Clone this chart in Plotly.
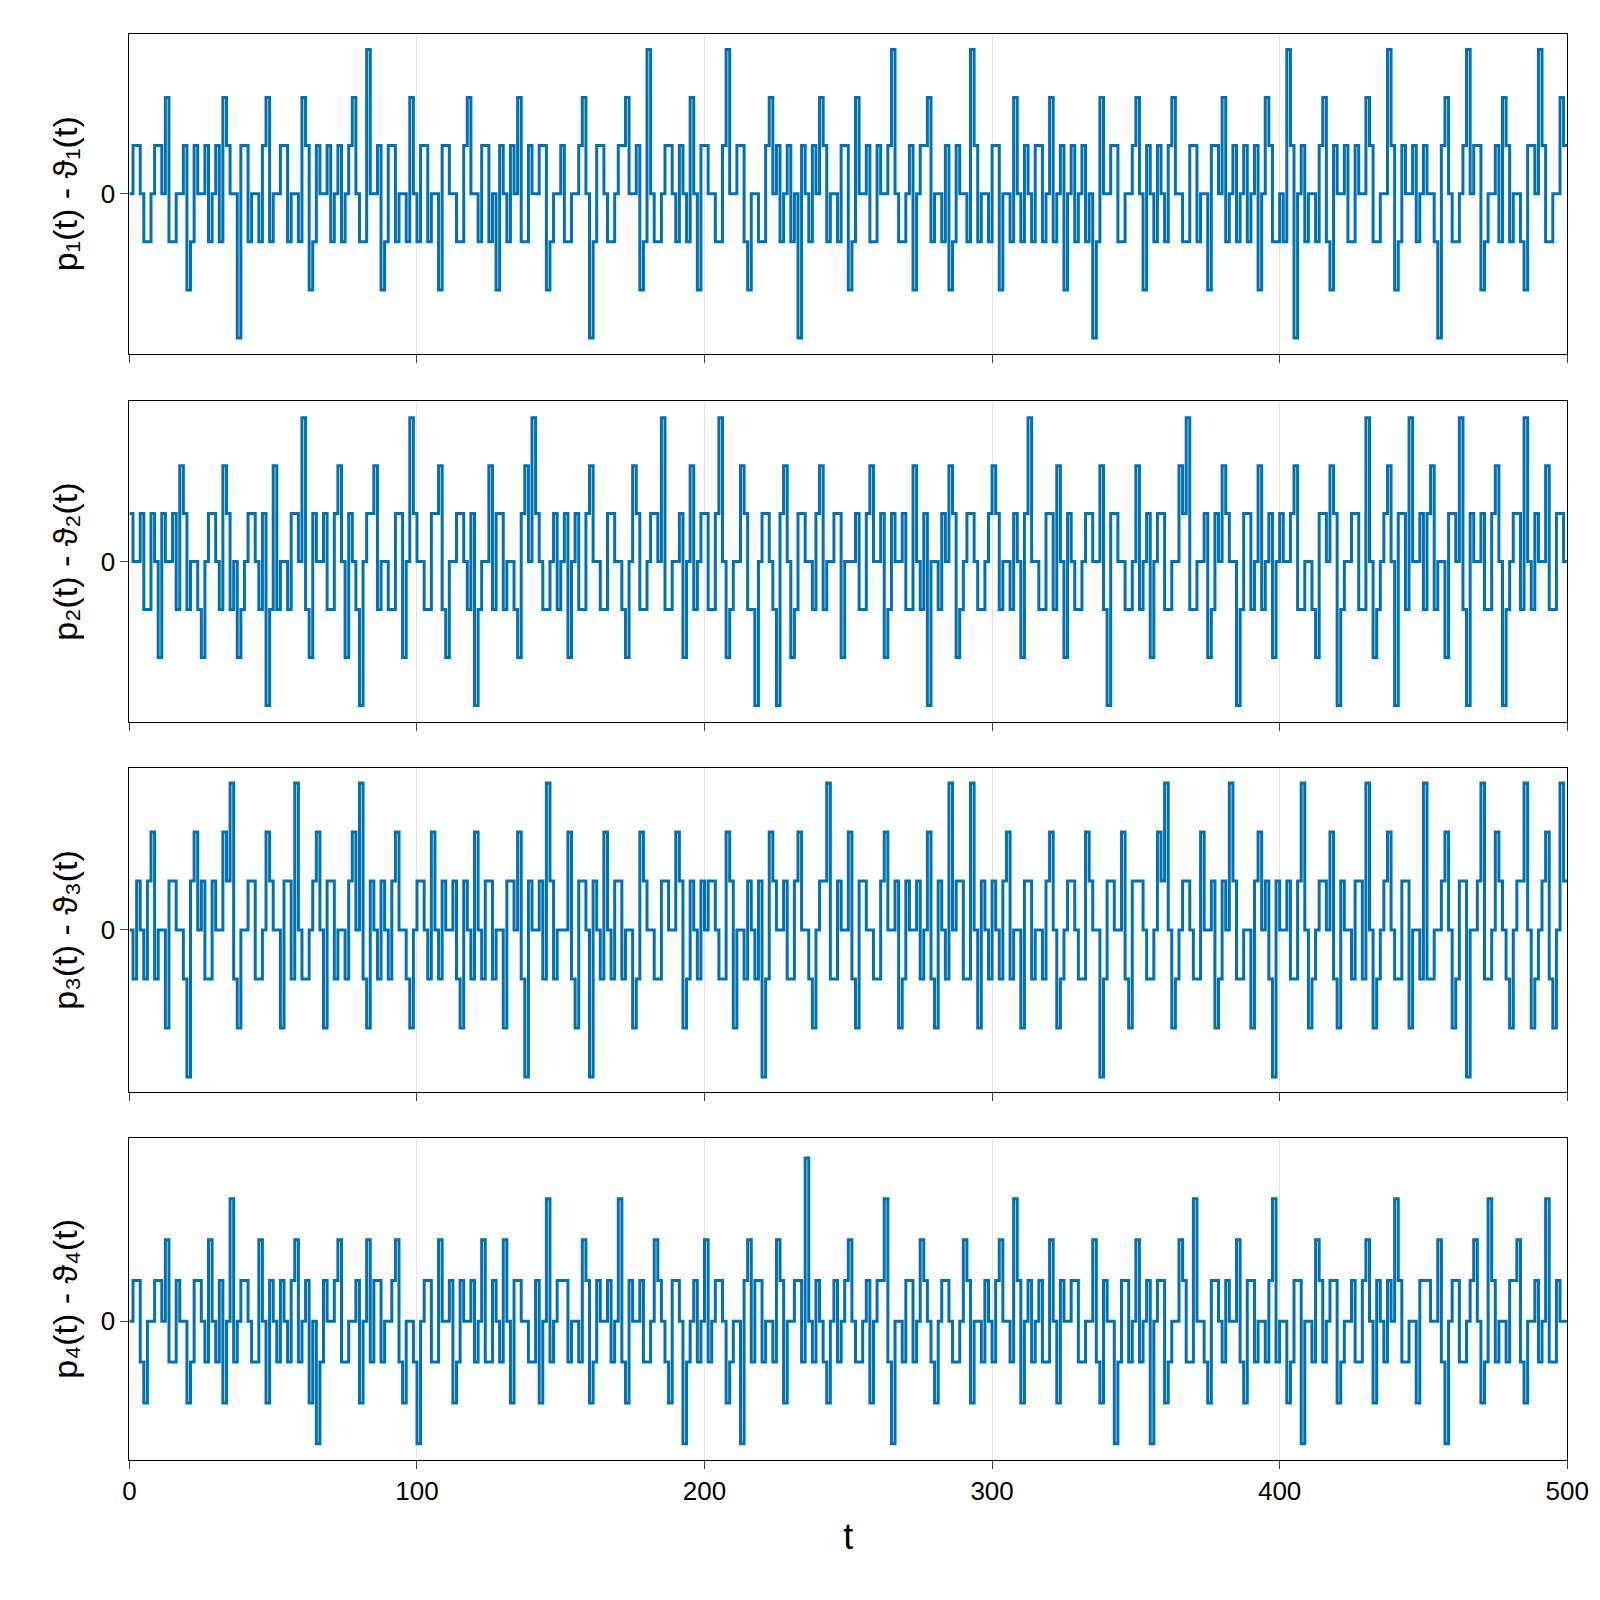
import numpy as np
import plotly.graph_objects as go

p1 = [0,1,-1,0,1,2,-1,0,-2,1,0,-1,1,2,0,-3,1,0,-1,2,
      0,1,-1,0,2,-2,1,0,-1,1,0,2,-1,3,0,-2,1,-1,0,2,
      -1,1,0,-2,1,0,-1,2,0,1,-1,-2,0,1,2,-1,0,1,-2,0,
      1,-1,0,2,-3,1,0,-1,1,2,0,-2,3,-1,0,1,-1,0,2,-2,
      1,0,-1,3,0,1,-2,0,-1,2,1,0,-1,-3,0,1,2,-1,0,1,
      -2,2,0,-1,1,0,3,-1,0,-2,1,2,0,-1,-2,1,0,3,-1,0,
      1,-2,0,2,-1,0,1,-1,2,0,-2,1,0,-1,-3,2,0,1,-1,0,
      2,-2,0,1,-1,2,0,-1,1,0,-2,1,2,0,-1,1,0,-2,2,-1,
      0,3,-3,1,0,-1,2,-2,0,1,-1,0,2,-1,0,3,-2,1,0,-1,
      1,0,-3,2,-1,0,3,1,-2,0,1,2,-1,0,-2,1,3,-1,0,2]
p1b = [1,0,-1,1,0,-1,0,1,-1,0,1,0,-1,1,0,1,-1,0,1,-1,
       0,1,0,-1,1,-1,0,1,0,-1,1,0,-1,0,1,-1,1,0,-1,0,
       1,-1,0,1,0,-1,1,0,-1,1,0,1,-1,0,-1,1,0,1,-1,0,
       -1,0,1,0,-1,1,-1,0,1,0,1,-1,0,-1,1,0,1,-1,0,1,
       0,-1,1,0,1,-1,0,-1,1,0,-1,1,0,1,-1,0,1,0,-1,1,
       -1,0,1,-1,0,1,0,-1,1,0,1,-1,0,1,-1,0,-1,1,0,-1,
       1,0,-1,0,1,-1,1,0,-1,1,0,-1,1,0,-1,0,1,-1,0,1,
       0,1,-1,0,1,0,-1,1,-1,0,1,0,-1,1,0,-1,1,0,1,-1,
       -1,1,0,-1,0,1,-1,1,0,-1,1,0,1,-1,0,1,-1,0,1,0,
       0,-1,1,0,-1,1,0,1,-1,0,-1,1,0,-1,1,0,1,-1,0,1]
p2 = [1,0,-1,1,-2,0,1,2,-1,0,-2,1,0,2,-1,-2,0,1,-1,-3,
      2,0,-1,1,3,-2,0,1,-1,2,-2,0,-3,1,2,0,-1,1,-2,3,
      0,-1,1,2,-2,0,1,-1,-3,0,2,1,-1,0,-2,2,3,0,-1,1,
      0,-2,1,-1,2,0,-1,1,0,-2,2,-1,0,1,3,-1,0,-2,2,0,
      1,-1,3,-2,0,2,-1,-3,1,0,-3,2,-2,1,0,-1,2,0,1,-2,
      0,1,-1,2,0,-2,1,0,-1,2,-1,-3,0,1,2,-2,0,1,-1,0,
      2,-1,0,1,-2,3,0,-1,1,2,-2,0,-1,1,0,2,-3,1,0,-1,
      2,0,-2,1,-1,0,2,3,-1,0,-2,1,2,0,-3,1,-1,2,0,-2,
      1,0,2,-1,0,-2,1,2,-3,0,1,-1,3,-2,0,2,-3,1,3,0,
      -1,2,0,-2,1,3,-3,0,1,-1,2,-3,0,1,3,-1,0,2,-1,1]
p2b = [0,1,-1,0,1,0,-1,1,0,-1,0,1,-1,1,0,-1,1,0,1,-1,
       -1,0,1,0,-1,1,0,-1,1,0,1,-1,0,1,-1,0,-1,1,0,1,
       0,-1,1,-1,0,1,0,1,-1,0,-1,1,0,-1,1,0,1,-1,0,-1,
       1,0,-1,1,0,-1,1,0,-1,0,1,-1,1,0,-1,0,1,0,-1,1,
       -1,1,0,-1,0,1,-1,0,1,-1,1,0,-1,1,0,1,-1,0,1,0,
       0,-1,1,0,1,-1,0,1,-1,0,1,0,-1,0,1,-1,1,0,-1,1,
       1,0,-1,0,1,0,-1,1,-1,0,1,-1,0,1,0,-1,1,0,-1,0,
       -1,1,0,1,-1,0,1,-1,0,1,-1,0,1,0,-1,1,0,-1,1,0,
       0,1,-1,0,-1,1,0,1,-1,0,1,-1,0,-1,1,0,1,-1,0,1,
       1,-1,0,1,0,-1,1,0,-1,1,0,-1,1,-1,0,1,0,-1,1,0]
p3 = [0,1,-1,2,0,-2,1,0,-3,2,1,-1,0,2,3,-2,0,1,-1,2,
      0,-2,1,3,-1,0,2,-2,1,0,-1,2,3,-2,0,1,-1,2,0,-2,
      1,0,2,-1,0,1,-2,0,2,-1,1,0,-2,1,2,-3,0,1,3,-1,
      0,2,-2,1,-3,0,2,-1,1,0,-2,2,0,-1,1,0,2,-2,1,-1,
      0,1,-1,2,-2,0,1,-1,-3,2,0,1,-1,2,0,-2,1,3,-1,0,
      2,-2,1,0,-1,2,0,-2,1,0,-1,2,-2,0,3,1,-1,3,-2,0,
      1,-1,2,0,-2,1,0,-1,2,-2,0,1,-1,2,0,-3,1,0,2,-2,
      1,0,-1,2,3,-2,0,1,-1,2,0,-2,1,3,-1,0,-2,2,1,-3,
      0,1,-1,3,-2,0,1,2,-2,0,-1,1,3,-2,0,2,-1,1,-2,0,
      3,-1,0,2,-2,1,-3,0,3,-1,2,0,-2,1,3,-2,0,2,-2,3]
p3b = [-1,0,1,-1,0,1,0,-1,1,0,-1,1,0,1,-1,0,1,-1,0,1,
       0,1,-1,0,-1,1,0,1,-1,0,1,0,-1,1,-1,0,1,0,-1,0,
       1,-1,0,1,0,-1,1,-1,0,1,-1,0,1,0,-1,1,0,-1,1,0,
       0,-1,1,0,1,-1,0,1,-1,0,-1,1,0,-1,1,0,1,-1,0,1,
       1,0,-1,1,0,-1,0,1,-1,1,0,-1,1,0,-1,0,1,-1,1,0,
       -1,1,0,-1,1,0,1,-1,0,1,0,-1,1,-1,0,1,-1,0,1,-1,
       0,1,-1,0,1,-1,0,1,0,-1,1,0,-1,1,0,-1,1,0,-1,1,
       1,-1,0,1,0,-1,1,0,-1,0,1,-1,0,1,-1,0,1,0,-1,1,
       0,-1,1,0,-1,1,0,-1,1,0,1,-1,0,-1,1,0,-1,1,0,-1,
       -1,0,1,0,-1,1,0,1,-1,0,1,-1,0,1,0,-1,1,-1,0,1]
p4 = [0,1,-2,0,1,2,-1,0,-2,1,0,2,-1,-2,3,0,1,-1,2,-2,
      0,1,-1,2,0,-2,-3,1,0,2,-1,0,-2,2,1,-1,0,2,-2,0,
      -3,1,-1,2,0,-2,1,0,-1,2,-1,0,2,-2,1,0,-1,-2,3,0,
      1,-1,0,2,-2,1,0,-1,3,-2,0,1,-1,2,0,-2,1,-3,0,-1,
      2,0,1,-2,0,-3,2,1,-1,0,2,-2,0,1,4,-1,0,-2,1,0,
      2,-1,0,-2,1,3,-3,0,1,-1,2,0,-2,1,0,-1,2,-2,0,1,
      -1,2,0,3,-2,1,0,-1,2,-2,0,1,-1,0,2,-2,0,-3,1,-1,
      2,0,-3,1,-2,0,2,-1,3,0,-2,1,-1,0,2,-2,1,0,-1,3,
      0,-2,1,-3,0,2,-1,1,-2,0,1,-1,2,-2,0,1,3,-1,0,-2,
      1,0,2,-3,1,-1,0,2,-2,3,-1,0,1,2,-2,0,-1,3,-1,0]
p4b = [1,-1,0,1,0,-1,1,0,-1,1,-1,0,1,0,-1,1,0,-1,0,1,
       -1,0,1,-1,1,0,-1,0,1,-1,0,1,0,-1,1,0,1,-1,0,-1,
       0,1,-1,0,1,-1,0,1,0,-1,1,-1,0,1,0,-1,1,0,-1,1,
       1,0,-1,1,-1,0,1,0,-1,1,0,-1,0,1,-1,1,0,-1,1,0,
       -1,1,0,-1,0,1,-1,1,0,-1,1,0,1,-1,0,1,-1,0,-1,1,
       0,-1,1,0,1,-1,0,-1,1,0,1,-1,0,1,-1,0,1,0,-1,0,
       1,0,-1,1,0,-1,1,-1,0,1,0,1,-1,0,-1,1,0,-1,1,0,
       -1,1,0,1,-1,0,1,-1,0,-1,1,0,1,0,-1,1,-1,0,1,-1,
       0,-1,1,0,-1,1,0,1,-1,0,-1,1,0,1,-1,0,1,-1,0,1,
       1,0,-1,0,1,-1,1,0,-1,1,0,-1,1,-1,0,1,0,-1,1,0]


def weave(a, b):
    out = []
    for u, v in zip(a, b):
        out += [u, v]
    return out


series = [weave(p1, p1b), weave(p2, p2b), weave(p3, p3b), weave(p4, p4b)]
labels = ["p₁(t) - ϑ₁(t)", "p₂(t) - ϑ₂(t)", "p₃(t) - ϑ₃(t)", "p₄(t) - ϑ₄(t)"]
yranges = [(-3.33, 3.33), (-3.35, 3.35), (-3.3, 3.3), (-3.4, 4.5)]
tops = [32, 392, 752, 1114]
bottoms = [346, 707, 1069, 1430]
S = 1568


def ydom(p):
    return 1 - (p - 7) / S


fig = go.Figure()
for i, s in enumerate(series):
    t = np.arange(len(s) + 1) * 500 / len(s)
    y = s + [s[-1]]
    ax = "" if i == 0 else str(i + 1)
    fig.add_trace(go.Scatter(x=t, y=y, mode="lines", line=dict(shape="hv", color="#0072B2", width=3),
                             xaxis="x" + ax, yaxis="y" + ax, showlegend=False))
    common = dict(showline=True, mirror=True, linecolor="black", linewidth=1.2, zeroline=False,
                  automargin=False)
    fig.layout["xaxis" + ax] = dict(domain=[(127 - 8) / S, (1536 - 8) / S], anchor="y" + ax,
                                    range=[0, 500], tickvals=[0, 100, 200, 300, 400, 500],
                                    showticklabels=(i == 3), ticks="outside", ticklen=8, showgrid=True,
                                    gridcolor="#e5e5e5", tickfont=dict(size=26), **common)
    fig.layout["yaxis" + ax] = dict(domain=[ydom(bottoms[i]), ydom(tops[i])], anchor="x" + ax,
                                    range=list(yranges[i]), tickvals=[0], ticks="outside", ticklen=8,
                                    showgrid=False, tickfont=dict(size=26),
                                    title=dict(text=labels[i], font=dict(size=34), standoff=12), **common)
fig.layout.xaxis4.title = dict(text="t", font=dict(size=36), standoff=18)
fig.update_layout(width=1600, height=1600, margin=dict(l=0, r=0, t=0, b=0),
                  plot_bgcolor="white", paper_bgcolor="white",
                  font=dict(family="Liberation Sans, Arial", color="black"))
fig.write_html("out.html")
